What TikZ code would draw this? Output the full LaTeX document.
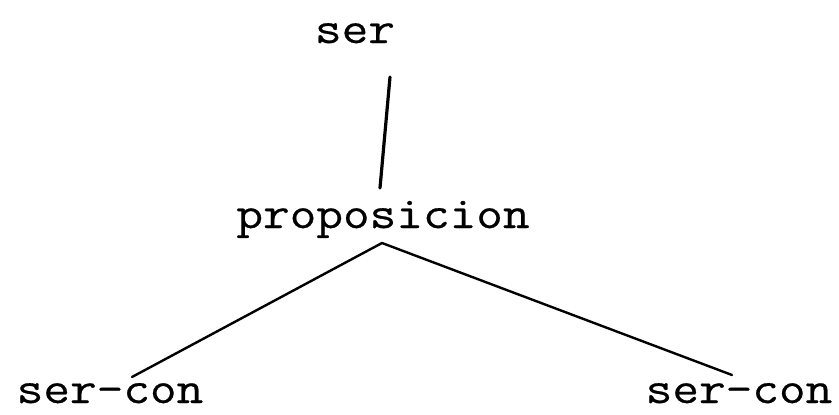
\documentclass[tikz,border=0pt]{standalone}
\usepackage{fontspec}
\setmonofont{Latin Modern Mono}[FakeStretch=1.15,FakeBold=0.5]
\begin{document}
\begin{tikzpicture}[x=1pt,y=-1pt,line width=3.2pt,line cap=round,line join=round,font=\ttfamily\fontsize{45}{50}\selectfont]
\tikzset{every node/.style={anchor=base,inner sep=0pt}}
\useasboundingbox (0,0) rectangle (839,415);
\node (ser) at (355,43) {ser};
\node (prop) at (383,228) {proposicion};
\node (izq) at (110,403) {ser-con};
\node (der) at (739,403) {ser-con};
\draw ([shift={(35,34)}]ser.base)--([shift={(-3,-40)}]prop.base);
\draw[line width=2.4pt] ([shift={(22,-26)}]izq.base)--([shift={(-1,15)}]prop.base)--([shift={(-7,-28)}]der.base);
\end{tikzpicture}
\end{document}
